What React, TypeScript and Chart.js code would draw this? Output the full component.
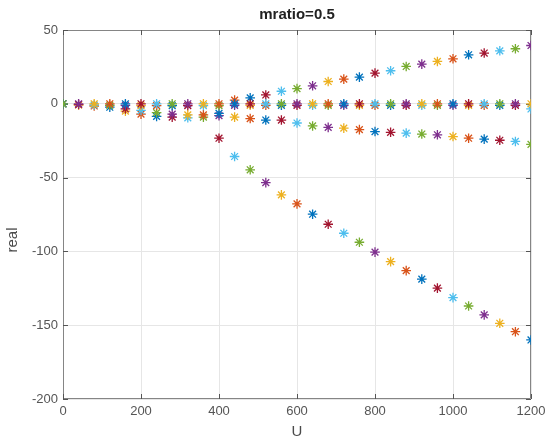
import React, { useEffect, useRef } from "react";
import { Chart, registerables } from "chart.js";

Chart.register(...registerables);

// Flow speed values at which the eigenvalues were evaluated
const speeds = [
  0, 40, 80, 120, 160, 200, 240, 280, 320, 360, 400, 440, 480, 520, 560, 600,
  640, 680, 720, 760, 800, 840, 880, 920, 960, 1000, 1040, 1080, 1120, 1160, 1200,
];

// Real parts of the eigenvalues, one list per mode (null where the mode is absent)
const zeroMode = [
  0, 0, 0, 0, 0, 0, 0, 0, 0, 0, 0, 0, 0, 0, 0, 0,
  0, 0, 0, 0, 0, 0, 0, 0, 0, 0, 0, 0, 0, 0, 0,
];
const nearZeroMode = [
  0, -0.5, -0.8, -1, -1, -1.2, -1.2, -1.2, -1.2, -1.2, -1.2, -1, -1, -1, -1, -1,
  -1, -1, -1, -1, -1, -1, -1, -1, -1, -1, -1, -1, -1, -1, -3.5,
];
const gentleMode = [
  0, -0.8, -1.5, -2.3, -3.5, -4.5, -6, -7, -7.5, -7.5, -6.5, null, null, null, null, null,
  null, null, null, null, null, null, null, null, null, null, null, null, null, null, null,
];
const dampedMode = [
  null, null, null, null, -5, -7, -8.5, -9, -9.5, -9, -8, -9, -10, -11, -11, -13,
  -15, -16, -16.5, -17.5, -18.8, -19.3, -19.9, -20.5, -21, -22.2, -23.3, -23.9, -24.7, -25.5, -27.5,
];
const steepMode = [
  null, null, null, null, null, null, null, null, null, null, -23.3, -35.7, -44.7, -53.4, -61.7, -67.8,
  -74.8, -81.6, -87.7, -93.8, -100.5, -106.9, -113, -118.8, -124.9, -131.3, -137, -143, -148.7, -154.4, -160,
];
const risingMode = [
  null, null, null, null, null, null, null, null, null, null, null, 2.5, 4, 6, 8.5, 10.3,
  12.2, 15.1, 16.7, 18.1, 20.8, 22.4, 25.3, 26.9, 28.7, 30.5, 33.2, 34.4, 35.9, 37.3, 39.5,
];

const modes = [zeroMode, nearZeroMode, gentleMode, dampedMode, steepMode, risingMode];

const xTicks = [0, 200, 400, 600, 800, 1000, 1200];
const yTicks = [-200, -150, -100, -50, 0, 50];

const TITLE = "mratio=0.5";
const X_LABEL = "U";
const Y_LABEL = "real";

// MATLAB default colour order
const palette = ["#0072BD", "#D95319", "#EDB120", "#7E2F8E", "#77AC30", "#4DBEEE", "#A2142F"];

const FONT = "'Liberation Sans', Arial, Helvetica, sans-serif";
const W = 547;
const H = 444;

const axesDecor = {
  id: "axesDecor",
  beforeDatasetsDraw(chart: any) {
    const { ctx, chartArea, scales } = chart;
    const { left, right, top, bottom } = chartArea;
    ctx.save();
    ctx.strokeStyle = "#858585";
    ctx.lineWidth = 1;
    ctx.beginPath();
    ctx.rect(left + 0.5, top + 0.5, right - left - 1, bottom - top - 1);
    ctx.stroke();
    // inward tick marks on all four sides
    const len = 5;
    ctx.strokeStyle = "#555";
    ctx.beginPath();
    for (const v of xTicks) {
      const x = Math.round(scales.x.getPixelForValue(v)) + 0.5;
      ctx.moveTo(x, bottom);
      ctx.lineTo(x, bottom - len);
      ctx.moveTo(x, top);
      ctx.lineTo(x, top + len);
    }
    for (const v of yTicks) {
      const y = Math.round(scales.y.getPixelForValue(v)) + 0.5;
      ctx.moveTo(left, y);
      ctx.lineTo(left + len, y);
      ctx.moveTo(right, y);
      ctx.lineTo(right - len, y);
    }
    ctx.stroke();
    ctx.restore();
  },
  afterDraw(chart: any) {
    const { ctx, chartArea } = chart;
    const cx = (chartArea.left + chartArea.right) / 2;
    ctx.save();
    ctx.textAlign = "center";
    ctx.textBaseline = "middle";
    ctx.fillStyle = "#222";
    ctx.font = `bold 15px ${FONT}`;
    ctx.fillText(TITLE, cx, 15);
    ctx.fillStyle = "#4a4a4a";
    ctx.font = `15px ${FONT}`;
    ctx.fillText(X_LABEL, cx, 432);
    ctx.translate(13, 240);
    ctx.rotate(-Math.PI / 2);
    ctx.fillText(Y_LABEL, 0, 0);
    ctx.restore();
  },
};

export default function App() {
  const ref = useRef<HTMLCanvasElement | null>(null);

  useEffect(() => {
    if (!ref.current) return;
    const datasets = modes.map((mode, j) => {
      const data: { x: number; y: number }[] = [];
      const colors: string[] = [];
      mode.forEach((v, k) => {
        if (v === null) return;
        data.push({ x: speeds[k], y: v as number });
        colors.push(palette[(k * 6 + j * 3 + 4) % 7]);
      });
      return {
        label: `mode ${j + 1}`,
        data,
        showLine: false,
        pointStyle: "star" as const,
        pointRadius: 4.8,
        pointBorderWidth: 1.3,
        pointBorderColor: colors,
        pointBackgroundColor: "transparent",
      };
    });

    const tickFont = { family: FONT, size: 13 };
    const plain = (v: any) => String(v);
    const chart = new Chart(ref.current, {
      type: "scatter",
      data: { datasets },
      plugins: [axesDecor],
      options: {
        animation: false,
        responsive: false,
        devicePixelRatio: 1,
        layout: { padding: { top: 30, right: 16, left: 0, bottom: 0 } },
        plugins: {
          legend: { display: false },
          tooltip: { enabled: false },
          title: { display: false },
        },
        scales: {
          x: {
            type: "linear",
            min: 0,
            max: 1200,
            afterBuildTicks: (s: any) => {
              s.ticks = xTicks.map((v) => ({ value: v }));
            },
            afterFit: (s: any) => {
              s.height = 45;
              s.paddingLeft = 0;
              s.paddingRight = 0;
            },
            grid: { color: "#e6e6e6", drawTicks: false },
            border: { display: false },
            ticks: { font: tickFont, color: "#555", padding: 5, maxRotation: 0, autoSkip: false, callback: plain },
          },
          y: {
            type: "linear",
            min: -200,
            max: 50,
            afterBuildTicks: (s: any) => {
              s.ticks = yTicks.map((v) => ({ value: v }));
            },
            afterFit: (s: any) => {
              s.width = 63;
              s.paddingTop = 0;
              s.paddingBottom = 0;
            },
            grid: { color: "#e6e6e6", drawTicks: false },
            border: { display: false },
            ticks: { font: tickFont, color: "#555", padding: 5, callback: plain },
          },
        },
      },
    });
    return () => chart.destroy();
  }, []);

  return (
    <div
      style={{
        position: "fixed",
        left: 0,
        top: 0,
        width: W,
        height: H,
        background: "#fff",
      }}
    >
      <canvas ref={ref} width={W} height={H} style={{ width: W, height: H, display: "block" }} />
    </div>
  );
}
